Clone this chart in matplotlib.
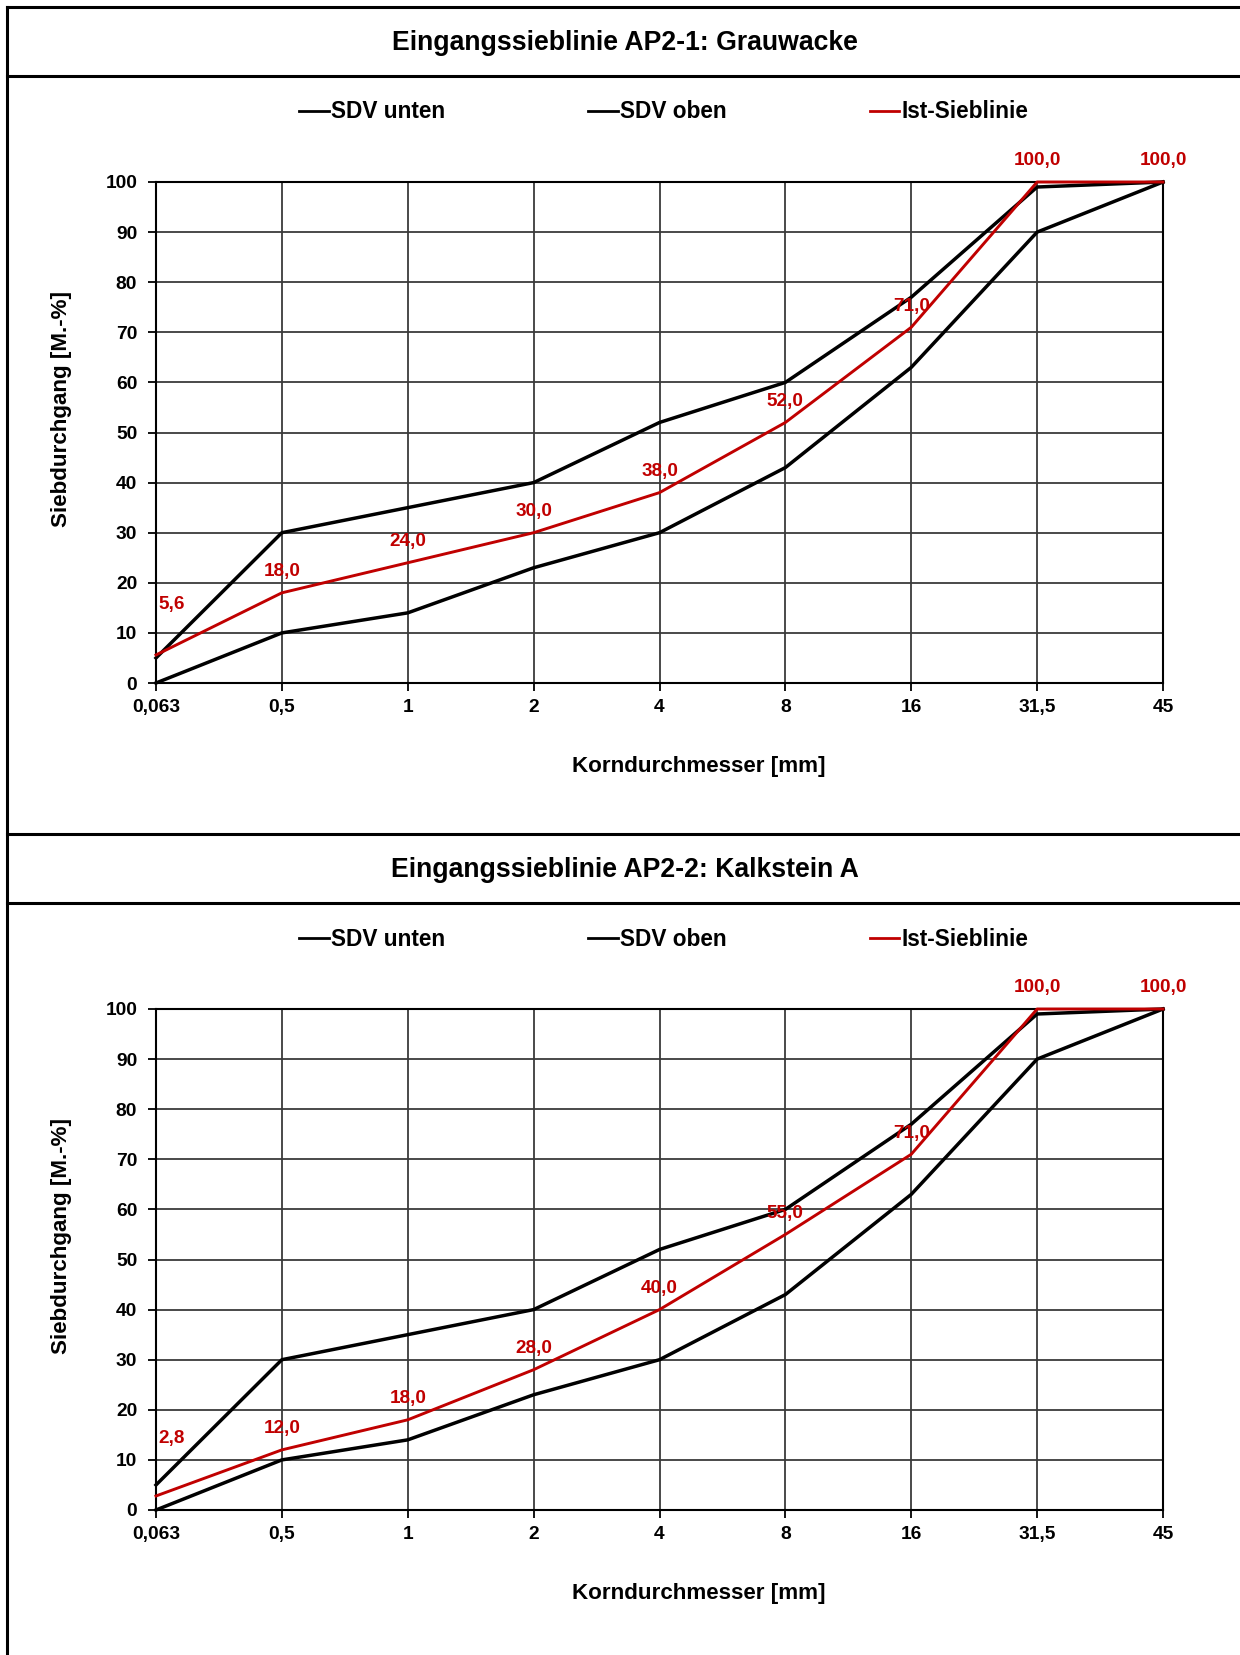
import matplotlib
matplotlib.use("Agg")
import matplotlib.pyplot as plt
from matplotlib.lines import Line2D

plt.rcParams['font.family'] = ['Liberation Sans', 'DejaVu Sans']
plt.rcParams['font.weight'] = 'bold'

# ---- data ----
sieve_labels = ['0,063', '0,5', '1', '2', '4', '8', '16', '31,5', '45']
sdv_unten = [0, 10, 14, 23, 30, 43, 63, 90, 100]
sdv_oben = [5, 30, 35, 40, 52, 60, 77, 99, 100]
ist_ap2_1 = [5.6, 18.0, 24.0, 30.0, 38.0, 52.0, 71.0, 100.0, 100.0]
ist_ap2_2 = [2.8, 12.0, 18.0, 28.0, 40.0, 55.0, 71.0, 100.0, 100.0]
titles = ['Eingangssieblinie AP2-1: Grauwacke', 'Eingangssieblinie AP2-2: Kalkstein A']
series_names = ['SDV unten', 'SDV oben', 'Ist-Sieblinie']
y_ticks = list(range(0, 101, 10))

W, H = 1240, 1655
DPI = 100
fig = plt.figure(figsize=(W / DPI, H / DPI), dpi=DPI)
fig.patch.set_facecolor('white')

RED = '#C00000'


def fx(px):
    return px / W


def fy(py):
    return 1 - py / H


def hline(y, x0=7, x1=W, lw=2.2):
    fig.add_artist(Line2D([fx(x0), fx(x1)], [fy(y), fy(y)], color='black', lw=lw,
                          transform=fig.transFigure))


# frame
fig.add_artist(Line2D([fx(7), fx(7)], [fy(7), fy(H)], color='black', lw=2.2,
                      transform=fig.transFigure))
hline(7)

panel_offset = 827
for p, (title, ist) in enumerate(zip(titles, [ist_ap2_1, ist_ap2_2])):
    off = p * panel_offset
    if p > 0:
        hline(7 + off)
    hline(76 + off)
    fig.text(fx(625), fy(43 + off), title, ha='center', va='center',
             fontsize=19.2, fontweight='bold', color='black')

    top, bottom, left, right = 182 + off, 683 + off, 156, 1163
    ax = fig.add_axes([fx(left), fy(bottom), fx(right - left), (bottom - top) / H])
    x = list(range(len(sieve_labels)))
    l1, = ax.plot(x, sdv_unten, color='black', lw=2.5, clip_on=False, zorder=3)
    l2, = ax.plot(x, sdv_oben, color='black', lw=2.5, clip_on=False, zorder=3)
    l3, = ax.plot(x, ist, color=RED, lw=2.1, clip_on=False, zorder=4)

    ax.set_xlim(0, len(sieve_labels) - 1)
    ax.set_ylim(0, 100)
    ax.set_xticks(x)
    ax.set_xticklabels(sieve_labels)
    ax.set_yticks(y_ticks)
    ax.tick_params(axis='both', direction='out', length=5.5, width=1.3, color='black',
                   labelsize=13.8, labelcolor='black')
    ax.tick_params(axis='x', pad=6)
    ax.tick_params(axis='y', pad=8)
    for lab in ax.get_xticklabels() + ax.get_yticklabels():
        lab.set_fontweight('bold')
    ax.grid(True, color='#3a3a3a', lw=1.3)
    ax.set_axisbelow(True)
    for s in ax.spines.values():
        s.set_color('black')
        s.set_linewidth(1.5)

    # data labels
    for i, v in enumerate(ist):
        txt = f"{v:.1f}".replace('.', ',')
        if i == 0:
            ax.annotate(txt, (i, v), xytext=(2, 50 if p == 0 else 57),
                        textcoords='offset pixels', ha='left', va='center',
                        fontsize=13.6, fontweight='bold', color=RED, zorder=6)
        else:
            ax.annotate(txt, (i, v), xytext=(0, 21), textcoords='offset pixels',
                        ha='center', va='center', fontsize=13.6, fontweight='bold',
                        color=RED, zorder=6)

    # axis labels
    fig.text(fx(699), fy(767 + off), 'Korndurchmesser [mm]', ha='center', va='center',
             fontsize=16.1, fontweight='bold')
    fig.text(fx(61), fy(409 + off), 'Siebdurchgang [M.-%]', ha='center', va='center',
             rotation=90, fontsize=16.1, fontweight='bold')

    # legend
    leg = fig.legend([l1, l2, l3], series_names, loc='center',
                     bbox_to_anchor=(fx(664), fy(112 + off)), ncol=3, frameon=False,
                     fontsize=16.3, handlelength=1.3, handletextpad=0.12,
                     columnspacing=6.3, borderaxespad=0, borderpad=0)
    for t in leg.get_texts():
        t.set_fontweight('bold')
    for h in leg.legend_handles:
        h.set_linewidth(2.0)

fig.savefig('out.png', dpi=DPI, facecolor='white')
